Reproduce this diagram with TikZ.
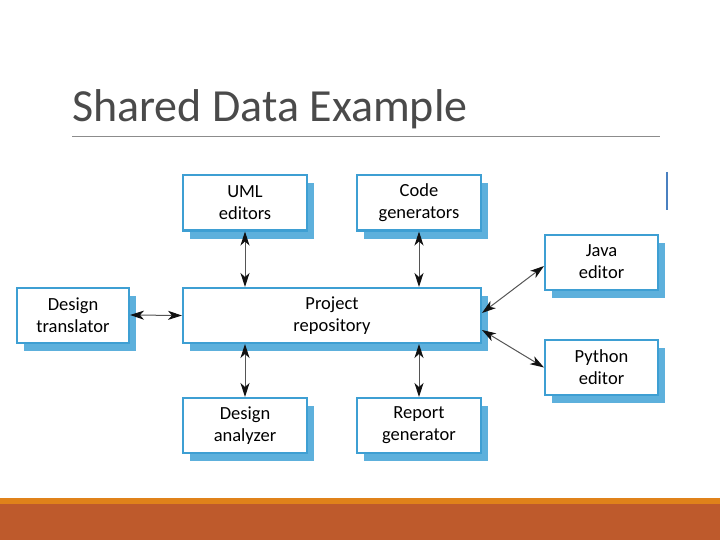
\documentclass[tikz,border=0pt]{standalone}
\usepackage{fontspec}
\setmainfont{Carlito}
\usepackage{xcolor}
\definecolor{ink}{HTML}{4A4A4A}
\definecolor{rule}{HTML}{8C8C8C}
\definecolor{frame}{HTML}{3E9FD3}
\definecolor{shade}{HTML}{5DB0DC}
\definecolor{tipink}{HTML}{111111}
\definecolor{stem}{HTML}{555555}
\definecolor{band}{HTML}{E0821A}
\definecolor{foot}{HTML}{BE5A2C}
\definecolor{stray}{HTML}{4A80C0}
\usetikzlibrary{positioning,calc,arrows.meta,shadows}

\begin{document}
\begin{tikzpicture}[x=1pt,y=-1pt,
  box/.style={draw=frame,line width=2pt,fill=white,minimum height=55pt,align=center,inner sep=2pt,
    font=\fontsize{18.5}{22}\selectfont,
    general shadow={fill=shade,shadow xshift=7pt,shadow yshift=-8pt}},
  link/.style={stem,line width=1pt,
    {Stealth[length=14pt,width=9pt,inset=4pt,color=tipink]}-{Stealth[length=14pt,width=9pt,inset=4pt,color=tipink]}}]
  \useasboundingbox (0,0) rectangle (720,540);
  % slide frame
  \fill[foot] (0,504) rectangle (720,540);
  \fill[band] (0,497.5) rectangle (720,504);
  \node[anchor=base west,text=ink,font=\fontsize{46}{50}\selectfont,inner sep=0pt] (title) at (72,122) {Shared Data Example};
  \draw[rule,line width=0.8pt] (72,136) -- (660,136);
  \draw[stray,line width=2pt] (667,172) -- (667,210);
  % tools round the repository
  \foreach \name/\x/\y/\w/\txt in {
    uml/245/203/124/UML\\editors,
    code/419/203/124/Code\\generators,
    repo/332/315.5/298/Project\\repository,
    trans/73/315/112/Design\\translator,
    java/601.5/262/113/Java\\editor,
    python/601.5/367.5/113/Python\\editor,
    analyzer/245/425.5/124/Design\\analyzer,
    report/419/425.5/124/Report\\generator} {
    \node[box,minimum width=\w pt] (\name) at (\x,\y) {\txt};
  }
  \draw[link] (uml.south) -- (uml.south |- repo.north);
  \draw[link] (code.south) -- (code.south |- repo.north);
  \draw[link] (analyzer.north) -- (analyzer.north |- repo.south);
  \draw[link] (report.north) -- (report.north |- repo.south);
  \draw[link] (trans.east) -- (repo.west);
  \draw[link] ([yshift=2.5pt]repo.east) -- ([yshift=-4pt]java.west);
  \draw[link] ([yshift=-14.5pt]repo.east) -- (python.west);
\end{tikzpicture}
\end{document}
